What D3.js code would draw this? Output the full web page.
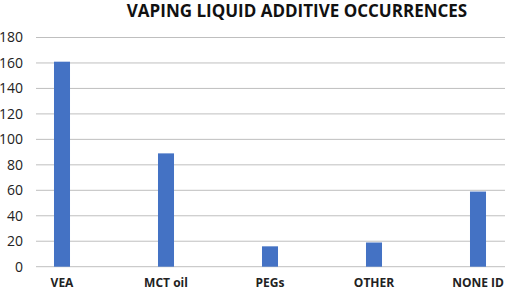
<!DOCTYPE html>
<html>
<head>
<meta charset="utf-8">
<script src="https://cdn.jsdelivr.net/npm/d3@7"></script>
<style>
  body { margin: 0; background: #fff; }
  text { font-family: "Open Sans", "Liberation Sans", sans-serif; }
</style>
</head>
<body>
<div id="chart"></div>
<script>
// data
const categories = ["VEA", "MCT oil", "PEGs", "OTHER", "NONE ID"];
const counts = [161, 89, 16, 19, 59];
const yTicks = [0, 20, 40, 60, 80, 100, 120, 140, 160, 180];

const W = 505, H = 290;
const plotTop = 37.5, plotBottom = 266.7;

const svg = d3.select("#chart")
  .append("svg")
    .attr("width", W)
    .attr("height", H);

// title
svg.append("text")
    .attr("x", 297)
    .attr("y", 17)
    .attr("text-anchor", "middle")
    .style("font-size", "17px")
    .style("font-weight", "bold")
    .attr("fill", "#111")
    .text("VAPING LIQUID ADDITIVE OCCURRENCES");

var x = d3.scaleBand()
    .domain(categories)
    .range([10, 530])
    .paddingInner(0.846)
    .paddingOuter(0.423);

var y = d3.scaleLinear()
    .domain([0, 180])
    .range([plotBottom, plotTop]);

// gridlines
svg.append("g")
  .selectAll("line")
  .data(yTicks)
  .join("line")
    .attr("x1", 36)
    .attr("x2", W)
    .attr("y1", d => y(d))
    .attr("y2", d => y(d))
    .attr("stroke", "#bfbfbf")
    .attr("stroke-width", 1);

// y axis labels
var Yaxis = svg.append("g")
    .attr("transform", "translate(31,0)")
    .call(d3.axisLeft(y).tickValues(yTicks).tickSize(0).tickPadding(8));
Yaxis.select(".domain").remove();
Yaxis.selectAll("text")
    .style("font-size", "14px")
    .style("font-family", "'Open Sans', sans-serif")
    .attr("fill", "#222");

// bars
svg.append("g")
  .selectAll("rect")
  .data(counts)
  .join("rect")
    .attr("x", (d, i) => x(categories[i]))
    .attr("y", d => y(d))
    .attr("width", x.bandwidth())
    .attr("height", d => plotBottom - y(d))
    .attr("fill", "#4472c4");

// x axis labels
var Xaxis = svg.append("g")
    .attr("transform", `translate(0,${plotBottom})`)
    .call(d3.axisBottom(x).tickSize(0).tickPadding(12));
Xaxis.select(".domain").remove();
Xaxis.selectAll("text")
    .style("font-size", "12px")
    .style("font-weight", "bold")
    .style("font-family", "'Open Sans', sans-serif")
    .attr("fill", "#222");
</script>
</body>
</html>
